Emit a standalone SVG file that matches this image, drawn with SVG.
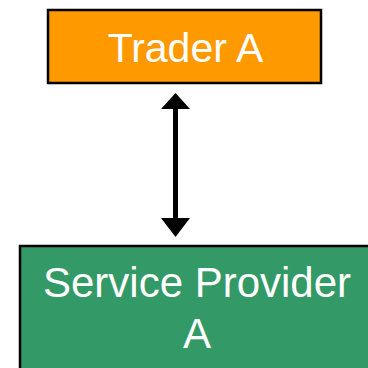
<svg xmlns="http://www.w3.org/2000/svg" width="368" height="368" viewBox="0 0 368 368">
  <style>
    .box { stroke: #000; stroke-width: 2.5; }
    .label { font-family: "Liberation Sans", Arial, sans-serif; fill: #fff; text-anchor: middle; }
    .arrow { fill: #000; }
  </style>
  <rect width="368" height="368" fill="#fff"/>
  <g id="trader-a">
    <rect class="box" x="48" y="10" width="273" height="73" fill="#FF9900"/>
    <text class="label" x="185.5" y="62" font-size="41">Trader A</text>
  </g>
  <g id="service-provider-a">
    <rect class="box" x="20" y="246" width="360" height="130" fill="#339966"/>
    <text class="label" x="197" y="297" font-size="42">Service Provider</text>
    <text class="label" x="197" y="348" font-size="42">A</text>
  </g>
  <g id="connectors">
    <!-- double-headed link between the two nodes -->
    <line x1="175.5" y1="108" x2="175.5" y2="219" stroke="#000" stroke-width="5"/>
    <path class="arrow" d="M175.5,93 L161,109 L190,109 Z"/>
    <path class="arrow" d="M175.5,237 L161,218 L190,218 Z"/>
  </g>
</svg>
